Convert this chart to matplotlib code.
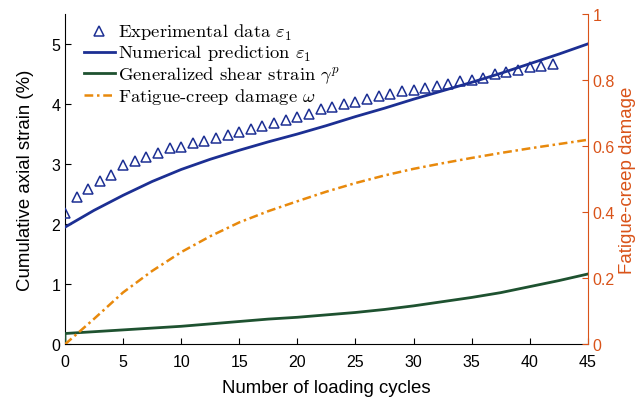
import matplotlib
matplotlib.use("Agg")
import matplotlib.pyplot as plt
from matplotlib.lines import Line2D

# ---- data ----
exp_cycles = list(range(0, 43))
exp_strain = [2.19, 2.46, 2.59, 2.72, 2.82, 2.99, 3.05, 3.12, 3.19, 3.26,
              3.28, 3.35, 3.38, 3.44, 3.48, 3.54, 3.59, 3.64, 3.68, 3.74,
              3.78, 3.84, 3.91, 3.95, 4.00, 4.03, 4.08, 4.13, 4.17, 4.21,
              4.24, 4.27, 4.30, 4.34, 4.38, 4.40, 4.44, 4.50, 4.54, 4.57,
              4.61, 4.63, 4.67]

model_cycles = [0, 2.5, 5, 7.5, 10, 12.5, 15, 17.5, 20, 22.5, 25, 27.5,
                30, 32.5, 35, 37.5, 40, 42.5, 45]
num_strain = [1.95, 2.23, 2.48, 2.71, 2.91, 3.08, 3.23, 3.37, 3.50, 3.64,
              3.79, 3.93, 4.08, 4.22, 4.36, 4.51, 4.67, 4.83, 5.00]
shear_cycles = [0] + model_cycles
shear_strain = [0.0, 0.18, 0.21, 0.24, 0.27, 0.30, 0.34, 0.38, 0.42, 0.45,
                0.49, 0.53, 0.58, 0.64, 0.71, 0.78, 0.86, 0.96, 1.06, 1.17]
damage = [0.0, 0.077, 0.157, 0.222, 0.279, 0.327, 0.369, 0.403, 0.433,
          0.462, 0.488, 0.511, 0.531, 0.548, 0.564, 0.579, 0.593, 0.606, 0.619]

x_ticks = [0, 5, 10, 15, 20, 25, 30, 35, 40, 45]
y_ticks = [0, 1, 2, 3, 4, 5]
y2_ticks = [0, 0.2, 0.4, 0.6, 0.8, 1.0]
y2_labels = ["0", "0.2", "0.4", "0.6", "0.8", "1"]

c_blue = "#1c2f93"
c_green = "#1e5230"
c_orange = "#e8890c"
c_axis2 = "#d95319"

plt.rcParams["font.family"] = ["Liberation Sans", "DejaVu Sans"]
plt.rcParams["mathtext.fontset"] = "cm"

fig = plt.figure(figsize=(6.41, 4.02), dpi=100)
ax = fig.add_axes([0.1014, 0.141, 0.8156, 0.822])
ax2 = ax.twinx()

dash = (0, (3.5, 1.5, 1, 1.5))
ax.plot(exp_cycles, exp_strain, linestyle="none", marker="^", markersize=6.5,
        markerfacecolor="none", markeredgecolor=c_blue, markeredgewidth=1.1, zorder=4)
ax.plot(model_cycles, num_strain, color=c_blue, lw=2.0, zorder=3)
ax.plot(shear_cycles, shear_strain, color=c_green, lw=2.0, zorder=3)
ax2.plot(model_cycles, damage, color=c_orange, lw=1.8, linestyle=dash)

ax.set_xlim(0, 45)
ax.set_ylim(0, 5.5)
ax2.set_ylim(0, 1)
ax.set_xticks(x_ticks)
ax.set_yticks(y_ticks)
ax2.set_yticks(y2_ticks)
ax2.set_yticklabels(y2_labels)

for a in (ax, ax2):
    a.spines["top"].set_visible(False)
ax.spines["right"].set_visible(False)
ax2.spines["left"].set_visible(False)
ax2.spines["bottom"].set_visible(False)
ax2.spines["right"].set_color(c_axis2)

ax.tick_params(direction="in", length=4, labelsize=11.5, width=0.8)
ax.tick_params(axis="x", pad=7)
ax2.tick_params(direction="in", length=4, labelsize=11.5, width=0.8,
                colors=c_axis2)

ax.set_xlabel("Number of loading cycles", fontsize=13.4, labelpad=7)
ax.set_ylabel("Cumulative axial strain (%)", fontsize=13.4, labelpad=12)
ax2.set_ylabel("Fatigue-creep damage", fontsize=13.4, color=c_axis2, labelpad=3)

handles = [
    Line2D([], [], linestyle="none", marker="^", markersize=6.5,
           markerfacecolor="none", markeredgecolor=c_blue, markeredgewidth=1.1),
    Line2D([], [], color=c_blue, lw=2.0),
    Line2D([], [], color=c_green, lw=2.0),
    Line2D([], [], color=c_orange, lw=1.8, linestyle=dash),
]
labels = [r"Experimental data $\varepsilon_1$",
          r"Numerical prediction $\varepsilon_1$",
          r"Generalized shear strain $\gamma^p$",
          r"Fatigue-creep damage $\omega$"]
leg = ax.legend(handles, labels, loc="upper left", bbox_to_anchor=(0.036, 0.975),
                frameon=False, handlelength=1.65, handletextpad=0.18,
                labelspacing=0.05, borderaxespad=0.0, borderpad=0.0,
                prop={"family": ["cmr10", "DejaVu Serif"], "size": 13.4})

fig.savefig("out.png", dpi=100)
